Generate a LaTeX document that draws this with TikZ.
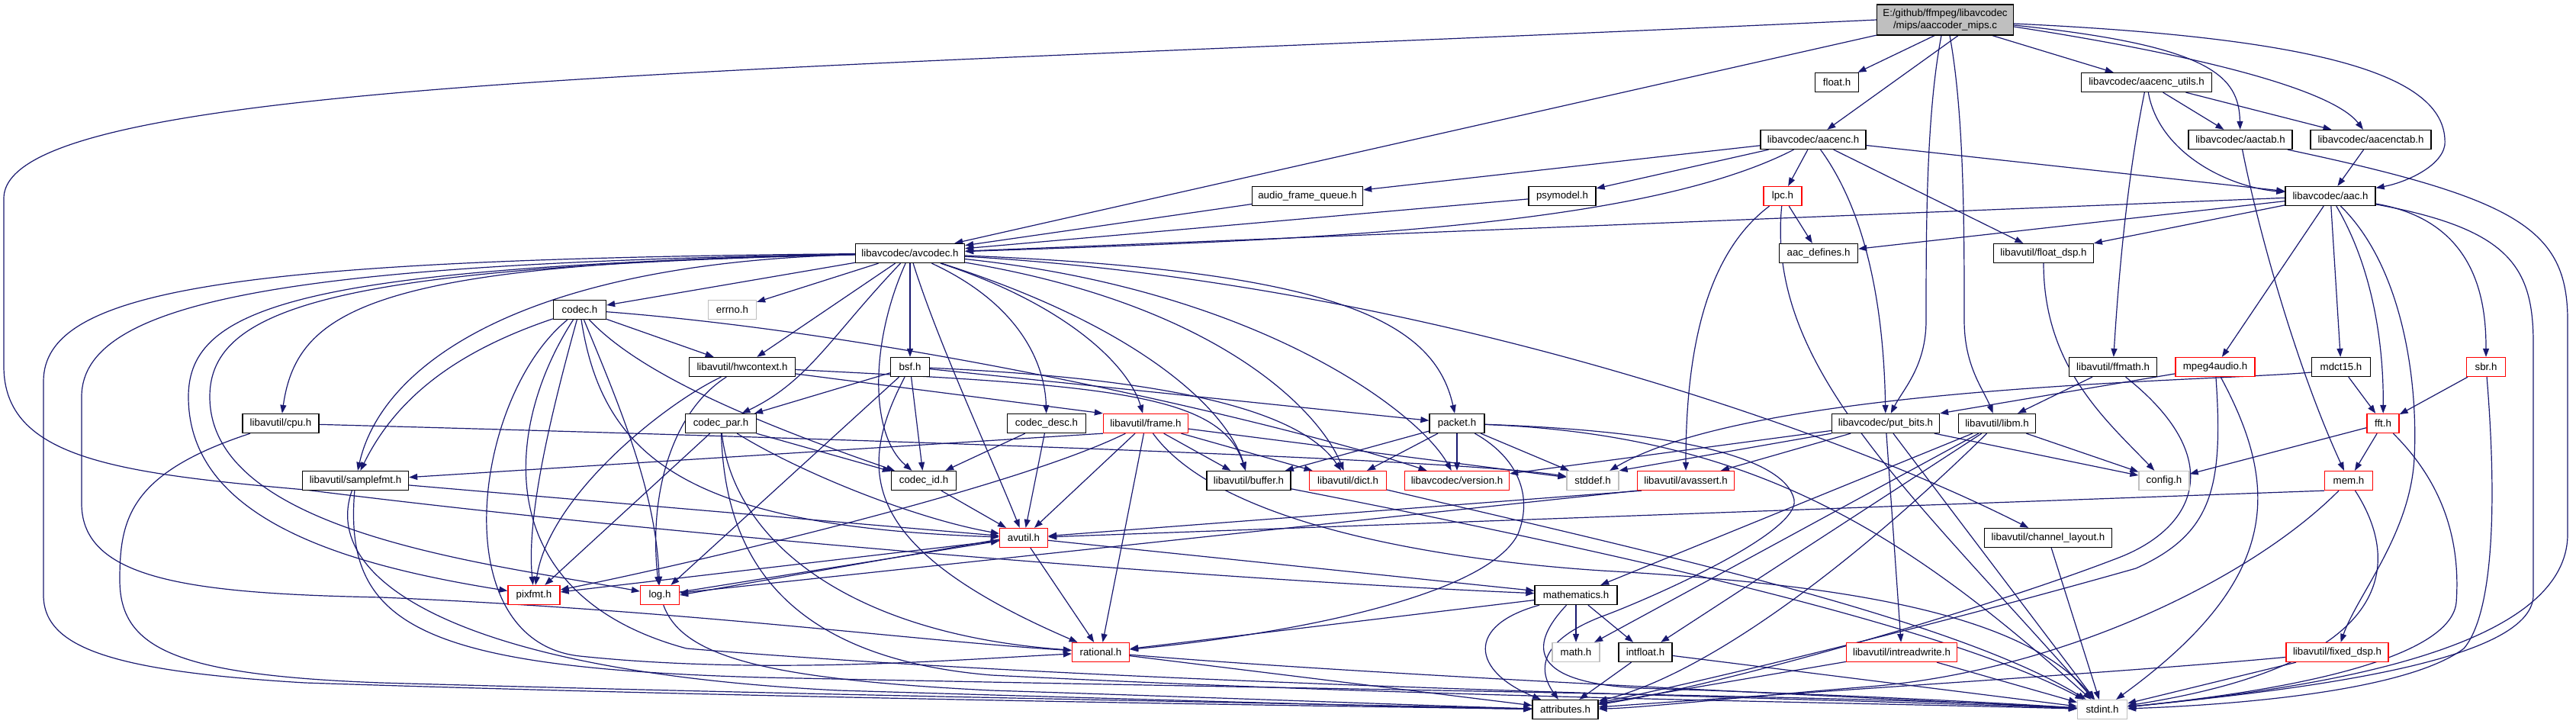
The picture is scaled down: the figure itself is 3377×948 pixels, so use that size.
\documentclass[tikz,border=0pt]{standalone}
\usepackage{fontspec}
\setmainfont{Liberation Sans}
\usetikzlibrary{arrows.meta}
\definecolor{edgec}{HTML}{191970}
\definecolor{grayb}{HTML}{BFBFBF}
\definecolor{redb}{HTML}{FF0000}
\newcommand\dxfont{\fontsize{13.3}{15.5}\selectfont}
\pgfdeclarelayer{bg}
\pgfsetlayers{bg,main}
\begin{document}
\begin{tikzpicture}[x=1pt,y=-1pt,
  nd/.style={draw=black,line width=1.3pt,fill=white,minimum height=25pt,inner sep=0pt,font=\dxfont},
  rnd/.style={nd,draw=redb},
  gnd/.style={nd,draw=grayb},
  e/.style={draw=edgec,line width=1.2pt,-{Triangle[length=11pt,width=8pt]}}]
\useasboundingbox (0,0) rectangle (3377,948);
% nodes
\node[nd,fill=grayb,minimum width=179pt,minimum height=40pt,align=center] (top) at (2550,26) {E:/github/ffmpeg/libavcodec\\/mips/aaccoder\_mips.c};
\node[nd,minimum width=57pt] (floath) at (2408,108) {float.h};
\node[nd,minimum width=171pt] (aeu) at (2814,108) {libavcodec/aacenc\_utils.h};
\node[nd,minimum width=138pt] (aenc) at (2377,183) {libavcodec/aacenc.h};
\node[nd,minimum width=136pt] (atab) at (2937,183) {libavcodec/aactab.h};
\node[nd,minimum width=158pt] (aetab) at (3108,183) {libavcodec/aacenctab.h};
\node[nd,minimum width=145pt] (afq) at (1714,257) {audio\_frame\_queue.h};
\node[nd,minimum width=88pt] (psy) at (2048,257) {psymodel.h};
\node[rnd,minimum width=50pt] (lpc) at (2337,257) {lpc.h};
\node[nd,minimum width=118pt] (aac) at (3055,257) {libavcodec/aac.h};
\node[nd,minimum width=143pt] (avc) at (1193,332) {libavcodec/avcodec.h};
\node[nd,minimum width=103pt] (adef) at (2384,332) {aac\_defines.h};
\node[nd,minimum width=131pt] (fdsp) at (2679,332) {libavutil/float\_dsp.h};
\node[gnd,minimum width=63pt] (errno) at (960,406) {errno.h};
\node[nd,minimum width=69pt] (codec) at (760,406) {codec.h};
\node[nd,minimum width=139pt] (hwc) at (973,481) {libavutil/hwcontext.h};
\node[nd,minimum width=51pt] (bsf) at (1193,481) {bsf.h};
\node[nd,minimum width=115pt] (ffm) at (2770,481) {libavutil/ffmath.h};
\node[rnd,minimum width=104pt] (m4a) at (2904,481) {mpeg4audio.h};
\node[nd,minimum width=77pt] (mdct) at (3069,481) {mdct15.h};
\node[rnd,minimum width=51pt] (sbr) at (3259,481) {sbr.h};
\node[nd,minimum width=100pt] (cpu) at (368,555) {libavutil/cpu.h};
\node[nd,minimum width=93pt] (cpar) at (945,555) {codec\_par.h};
\node[nd,minimum width=103pt] (cdesc) at (1372,555) {codec\_desc.h};
\node[rnd,minimum width=111pt] (frame) at (1502,555) {libavutil/frame.h};
\node[nd,minimum width=72pt] (packet) at (1910,555) {packet.h};
\node[nd,minimum width=141pt] (pbits) at (2472,555) {libavcodec/put\_bits.h};
\node[nd,minimum width=101pt] (libm) at (2618,555) {libavutil/libm.h};
\node[rnd,minimum width=42pt] (fft) at (3124,555) {fft.h};
\node[nd,minimum width=139pt] (sfmt) at (466,630) {libavutil/samplefmt.h};
\node[nd,minimum width=85pt] (cid) at (1211,630) {codec\_id.h};
\node[nd,minimum width=110pt] (buf) at (1637,630) {libavutil/buffer.h};
\node[rnd,minimum width=101pt] (dict) at (1767,630) {libavutil/dict.h};
\node[rnd,minimum width=137pt] (ver) at (1910,630) {libavcodec/version.h};
\node[gnd,minimum width=68pt] (stddef) at (2088,630) {stddef.h};
\node[rnd,minimum width=127pt] (avas) at (2210,630) {libavutil/avassert.h};
\node[gnd,minimum width=66pt] (config) at (2837,630) {config.h};
\node[rnd,minimum width=63pt] (mem) at (3079,630) {mem.h};
\node[rnd,minimum width=63pt] (avu) at (1342,705) {avutil.h};
\node[nd,minimum width=167pt] (chl) at (2685,705) {libavutil/channel\_layout.h};
\node[rnd,minimum width=68pt] (pix) at (700,780) {pixfmt.h};
\node[rnd,minimum width=51pt] (log) at (865,780) {log.h};
\node[nd,minimum width=108pt] (mathh) at (2066,780) {mathematics.h};
\node[rnd,minimum width=75pt] (rat) at (1443,855) {rational.h};
\node[gnd,minimum width=62pt] (math) at (2066,855) {math.h};
\node[nd,minimum width=70pt] (intf) at (2157,855) {intfloat.h};
\node[rnd,minimum width=145pt] (irw) at (2493,855) {libavutil/intreadwrite.h};
\node[rnd,minimum width=134pt] (fxd) at (3064,855) {libavutil/fixed\_dsp.h};
\node[nd,minimum width=86pt] (attr) at (2052,930) {attributes.h};
\node[gnd,minimum width=65pt] (stdint) at (2756,930) {stdint.h};
\begin{pgfonlayer}{bg}
\fill[white] (0,0) rectangle (3377,948);
% top node
\draw[e] (top) -- (avc);
\draw[e] ([xshift=-14pt]top.south) -- (floath);
\draw[e] ([xshift=17pt]top.south) -- (aenc);
\draw[e] ([xshift=62pt]top.south) -- (aeu);
\draw[e] ([yshift=-7pt]top.east) .. controls (2900,60) and (2935,100) .. (atab);
\draw[e] ([yshift=-9pt]top.east) .. controls (2900,75) and (3060,120) .. (aetab);
\draw[e] ([yshift=-5pt]top.east) .. controls (3050,50) and (3210,100) .. (3205,190) .. controls (3200,220) and (3150,240) .. (aac);
\draw[e] ([xshift=-5pt]top.south) .. controls (2525,150) and (2525,300) .. (2525,420) .. controls (2525,480) and (2495,510) .. (pbits);
\draw[e] ([xshift=6pt]top.south) .. controls (2575,150) and (2575,300) .. (2575,420) .. controls (2575,480) and (2600,510) .. (libm);
\draw[e] (top.west) .. controls (1000,95) and (5,100) .. (5,260) -- (5,480) .. controls (5,600) and (150,620) .. (400,642) .. controls (900,705) and (1600,760) .. (mathh);
% aacenc_utils
\draw[e] (aeu) .. controls (2785,250) and (2775,400) .. (ffm);
\draw[e] (aeu) .. controls (2830,200) and (2920,245) .. (aac);
\draw[e] (aeu) -- (atab);
\draw[e] (aeu) -- (aetab);
% aactab / aacenctab
\draw[e] (atab) .. controls (2960,300) and (3010,480) .. (mem);
\draw[e] (atab) .. controls (3300,260) and (3366,300) .. (3366,420) -- (3366,700) .. controls (3366,860) and (3000,905) .. (stdint);
\draw[e] (aetab) -- (aac);
% aacenc
\draw[e] (aenc) -- (afq);
\draw[e] (aenc) -- (psy);
\draw[e] (aenc) .. controls (2150,300) and (1700,315) .. (avc);
\draw[e] (aenc) -- (lpc);
\draw[e] (aenc) .. controls (2455,290) and (2470,430) .. (pbits);
\draw[e] (aenc) -- (fdsp);
\draw[e] (aenc) -- (aac);
\draw[e] (afq) -- (avc);
\draw[e] (psy) -- (avc);
% lpc
\draw[e] (lpc) -- (adef);
\draw[e] (lpc) .. controls (2240,330) and (2210,450) .. (avas);
\draw[e] (lpc) .. controls (2315,480) and (2500,640) .. (stdint);
% aac
\draw[e] (aac) -- (avc);
\draw[e] (aac) -- (adef);
\draw[e] (aac) -- (fdsp);
\draw[e] (aac) -- (m4a);
\draw[e] (aac) -- (mdct);
\draw[e] (aac) .. controls (3110,350) and (3125,450) .. (fft);
\draw[e] (aac) .. controls (3150,350) and (3170,500) .. (3165,600) .. controls (3160,700) and (3090,780) .. (fxd);
\draw[e] (aac) .. controls (3250,290) and (3259,400) .. (sbr);
\draw[e] (aac) .. controls (3290,300) and (3321,350) .. (3321,450) -- (3321,780) .. controls (3321,870) and (3000,905) .. (stdint);
\draw[e] (fdsp) .. controls (2679,480) and (2760,550) .. (config);
% avcodec
\draw[e] (avc) -- (errno);
\draw[e] (avc) -- (codec);
\draw[e] (avc) -- (hwc);
\draw[e] (avc) -- (bsf);
\draw[e] (avc) .. controls (1090,440) and (1060,500) .. (cpar);
\draw[e] (avc) .. controls (1140,450) and (1140,570) .. (cid);
\draw[e] (avc) .. controls (1230,450) and (1300,600) .. (avu);
\draw[e] (avc) .. controls (1340,400) and (1370,480) .. (cdesc);
\draw[e] (avc) .. controls (1400,400) and (1480,480) .. (frame);
\draw[e] (avc) .. controls (1500,430) and (1610,540) .. (buf);
\draw[e] (avc) .. controls (1600,400) and (1730,540) .. (dict);
\draw[e] (avc) .. controls (1650,380) and (1860,540) .. (ver);
\draw[e] (avc) .. controls (1750,355) and (1880,420) .. (packet);
\draw[e] (avc) .. controls (1850,370) and (2400,560) .. (chl);
\draw[e] (avc) .. controls (500,345) and (390,400) .. (cpu);
\draw[e] (avc) .. controls (680,345) and (500,480) .. (sfmt);
\draw[e] (avc) .. controls (400,350) and (247,400) .. (247,520) .. controls (247,680) and (450,740) .. (pix);
\draw[e] (avc) .. controls (450,350) and (275,400) .. (275,520) .. controls (275,700) and (650,740) .. (log);
\draw[e] (avc) .. controls (400,345) and (107,390) .. (107,520) -- (107,660) .. controls (107,760) and (250,778) .. (500,783) .. controls (900,800) and (1200,840) .. (rat);
\draw[e] (avc) .. controls (300,340) and (57,380) .. (57,500) -- (57,780) .. controls (57,850) and (150,880) .. (400,895) .. controls (1000,915) and (1700,925) .. (attr);
% codec.h
\draw[e] (codec) -- (hwc);
\draw[e] (codec) .. controls (830,480) and (950,540) .. (cid);
\draw[e] (codec) .. controls (1200,440) and (1700,560) .. (ver);
\draw[e] (codec) .. controls (790,600) and (900,690) .. (avu);
\draw[e] (codec) .. controls (820,550) and (860,650) .. (log);
\draw[e] (codec) .. controls (720,550) and (690,680) .. (pix);
\draw[e] (codec) .. controls (600,460) and (520,520) .. (sfmt);
\draw[e] (codec) .. controls (620,520) and (580,840) .. (760,860) .. controls (1000,885) and (1250,865) .. (rat);
\draw[e] (codec) .. controls (660,560) and (640,780) .. (900,850) .. controls (1500,900) and (2400,915) .. (stdint);
% hwcontext
\draw[e] (hwc) .. controls (1450,505) and (1600,515) .. (buf);
\draw[e] (hwc) -- (frame.north west);
\draw[e] (hwc) .. controls (880,540) and (850,650) .. (log);
\draw[e] (hwc) .. controls (870,530) and (720,650) .. (pix);
% bsf
\draw[e] (bsf) -- (packet);
\draw[e] (bsf) .. controls (1500,495) and (1700,530) .. (dict);
\draw[e] (bsf) -- (cpar);
\draw[e] (bsf) -- (cid);
\draw[e] (bsf) -- (log);
\draw[e] (bsf) .. controls (1120,620) and (1130,720) .. (rat);
% codec_par
\draw[e] (cpar) -- (pix);
\draw[e] (cpar) -- (cid);
\draw[e] (cpar) .. controls (1050,620) and (1200,680) .. (avu);
\draw[e] (cpar) .. controls (960,700) and (1100,830) .. (rat);
\draw[e] (cpar) .. controls (950,700) and (1000,860) .. (1300,885) .. controls (1900,915) and (2400,920) .. (stdint);
% codec_desc
\draw[e] (cdesc) -- (avu);
\draw[e] (cdesc) -- (cid);
% frame
\draw[e] (frame.south west) -- (sfmt);
\draw[e] (frame) .. controls (1330,640) and (900,740) .. (pix);
\draw[e] (frame) -- (avu);
\draw[e] (frame) -- (rat);
\draw[e] (frame) -- (buf);
\draw[e] (frame) -- (dict);
\draw[e] (frame) -- (stddef);
\draw[e] (frame) .. controls (1600,690) and (1900,735) .. (2100,748) .. controls (2400,765) and (2650,800) .. (stdint);
% packet
\draw[e] (packet) -- (buf);
\draw[e] (packet) -- (dict);
\draw[e] (packet) -- (ver);
\draw[e] (packet) -- (stddef);
\draw[e] (packet) .. controls (1990,600) and (2010,650) .. (1990,700) .. controls (1950,780) and (1700,830) .. (rat);
\draw[e] (packet) .. controls (2200,565) and (2340,600) .. (2352,655) .. controls (2360,700) and (2150,790) .. (2100,808) .. controls (2030,835) and (2010,870) .. (attr);
\draw[e] (packet) .. controls (2300,570) and (2500,700) .. (stdint);
% put_bits
\draw[e] (pbits) -- (irw);
\draw[e] (pbits) -- (avas);
\draw[e] (pbits.south west) -- (stddef.north east);
\draw[e] (pbits) -- (ver);
\draw[e] (pbits) -- (config);
\draw[e] (pbits) -- (stdint);
% libm
\draw[e] (libm) -- (math);
\draw[e] (libm) -- (intf);
\draw[e] (libm) -- (config);
\draw[e] (libm) -- (mathh);
\draw[e] (libm) .. controls (2450,720) and (2250,880) .. (attr);
% ffmath
\draw[e] (ffm) -- (libm);
\draw[e] (ffm) .. controls (2920,600) and (2880,690) .. (2780,730) .. controls (2600,800) and (2250,900) .. (attr);
% mpeg4audio
\draw[e] (m4a) -- (pbits.north east);
\draw[e] (m4a) .. controls (2915,640) and (2900,700) .. (2800,745) .. controls (2500,830) and (2200,900) .. (attr);
\draw[e] (m4a) .. controls (2990,640) and (2990,760) .. (stdint);
% mdct15
\draw[e] (mdct) -- (fft);
\draw[e] ([yshift=-7pt]mdct.west) .. controls (2900,500) and (2300,505) .. (stddef);
% sbr
\draw[e] (sbr) -- (fft);
\draw[e] (sbr) .. controls (3272,640) and (3272,800) .. (3230,850) .. controls (3150,910) and (2900,925) .. (stdint);
% fft
\draw[e] (fft) -- (config);
\draw[e] (fft) -- (mem);
\draw[e] (fft) .. controls (3210,640) and (3225,720) .. (3220,790) .. controls (3210,880) and (2900,915) .. (stdint);
% mem
\draw[e] (mem.south west) -- (avu);
\draw[e] (mem) .. controls (2950,760) and (2700,880) .. (2450,900) .. controls (2300,912) and (2150,928) .. (attr);
\draw[e] (mem) .. controls (3150,740) and (3140,870) .. (stdint);
% avassert
\draw[e] ([xshift=6pt]avas.south west) -- (avu);
\draw[e] (avas.south west) -- (log);
% samplefmt
\draw[e] (sfmt) -- (avu);
\draw[e] (sfmt) .. controls (420,760) and (600,880) .. (1100,905) .. controls (1600,920) and (1900,928) .. (attr);
\draw[e] (sfmt) .. controls (450,820) and (550,875) .. (1000,888) .. controls (1800,905) and (2450,912) .. (stdint);
% cpu
\draw[e] (cpu) .. controls (170,620) and (157,680) .. (157,760) .. controls (157,850) and (230,885) .. (500,895) .. controls (1100,912) and (1700,922) .. (attr);
\draw[e] (cpu) .. controls (1000,572) and (1900,600) .. (stddef);
% codec_id
\draw[e] (cid) -- (avu);
% log / avutil
\draw[e] ([yshift=4pt]log.east) -- ([yshift=-4pt]avu.west);
\draw[e] ([yshift=-2pt]avu.west) -- (log.east);
\draw[e] (log) .. controls (894,860) and (1000,890) .. (1300,905) .. controls (1700,918) and (1900,926) .. (attr);
\draw[e] (avu) -- (rat);
\draw[e] (avu) -- (mathh);
\draw[e] (avu) -- (pix);
% mathematics
\draw[e] (mathh) -- (rat);
\draw[e] (mathh) -- (math);
\draw[e] (mathh) -- (intf);
\draw[e] (mathh) .. controls (1920,820) and (1930,880) .. (attr);
\draw[e] (mathh) .. controls (2000,850) and (2010,895) .. (2150,902) .. controls (2400,910) and (2600,920) .. (stdint);
% rational, intfloat, intreadwrite, fixed_dsp, channel_layout, buffer, dict
\draw[e] (rat) -- (attr);
\draw[e] (rat) .. controls (1800,885) and (2400,912) .. (stdint);
\draw[e] (intf) -- (attr);
\draw[e] (intf) -- (stdint);
\draw[e] (irw) -- (attr);
\draw[e] (irw) -- (stdint);
\draw[e] (fxd) .. controls (2800,880) and (2400,905) .. (attr);
\draw[e] (fxd) -- (stdint);
\draw[e] (chl) -- (stdint);
\draw[e] (buf) .. controls (2100,720) and (2550,820) .. (stdint);
\draw[e] (dict) .. controls (2150,720) and (2560,810) .. (stdint);
\end{pgfonlayer}
\end{tikzpicture}
\end{document}
